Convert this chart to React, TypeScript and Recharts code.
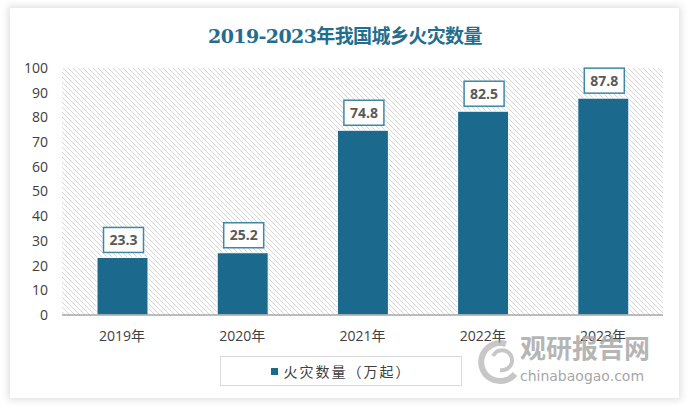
import React from "react";
import { BarChart, Bar, XAxis, YAxis, CartesianGrid, LabelList } from "recharts";

const categories = ["2019年", "2020年", "2021年", "2022年", "2023年"];
const fireCounts = [23.3, 25.2, 74.8, 82.5, 87.8];
const yTicks = [0, 10, 20, 30, 40, 50, 60, 70, 80, 90, 100];
const seriesName = "火灾数量（万起）";
const title = "2019-2023年我国城乡火灾数量";

const data = categories.map((c, i) => ({ year: c, value: fireCounts[i] }));

const BAR_COLOR = "#1b6a8d";
const SANS = "'Open Sans', 'Noto Sans CJK SC', sans-serif";

const ValueLabel = (props: any) => {
  const { x, y, width, value } = props;
  const cx = x + width / 2 + 1;
  const w = 40;
  const h = 25;
  const bottom = y - 5;
  return (
    <g>
      <rect x={cx - w / 2} y={bottom - h} width={w} height={h} fill="#ffffff" stroke="#3d88a8" strokeWidth={1.5} />
      <text x={cx} y={bottom - h / 2 + 5} textAnchor="middle" fill="#595959" fontSize={14} fontWeight="bold" fontFamily={SANS}>
        {value}
      </text>
    </g>
  );
};

export default function App() {
  return (
    <div style={{ position: "absolute", left: 0, top: 0, width: 690, height: 406, background: "#fff", overflow: "hidden" }}>
      <div
        style={{
          position: "absolute",
          left: 10,
          top: 8,
          width: 669,
          height: 390,
          background: "#fff",
          boxShadow: "0 0 7px 2px rgba(0,0,0,0.13)",
        }}
      />
      <div
        style={{
          position: "absolute",
          left: 0,
          top: 21,
          width: 690,
          textAlign: "center",
          fontFamily: "'DejaVu Serif', 'Liberation Serif', 'Noto Sans CJK SC', serif",
          fontWeight: "bold",
          fontSize: 19,
          color: "#236d8e",
          letterSpacing: -0.6,
        }}
      >
        {title}
      </div>
      <div style={{ position: "absolute", left: 0, top: 0 }}>
        <BarChart width={690} height={406} data={data} margin={{ top: 68, right: 27, bottom: 61, left: 22 }} barCategoryGap={0}>
          <defs>
            <pattern id="hatch" width="5" height="5" patternUnits="userSpaceOnUse">
              <rect width="5" height="5" fill="#ffffff" />
              <path d="M0,0 L5,5 M-1,4 L1,6 M4,-1 L6,1" stroke="#d6d6d6" strokeWidth={1} />
            </pattern>
          </defs>
          <CartesianGrid horizontal={false} vertical={false} fill="url(#hatch)" fillOpacity={1} />
          <XAxis
            dataKey="year"
            axisLine={{ stroke: "#a6a6a6", strokeWidth: 1.5 }}
            tickLine={false}
            tick={{ fill: "#404040", fontSize: 14, fontFamily: SANS }}
            dy={8}
            height={30}
          />
          <YAxis
            domain={[0, 100]}
            ticks={yTicks}
            interval={0}
            axisLine={false}
            tickLine={false}
            width={40}
            tick={{ fill: "#404040", fontSize: 14, fontFamily: SANS }}
            dx={-6}
          />
          <Bar dataKey="value" name={seriesName} fill={BAR_COLOR} stroke="#ffffff" strokeWidth={1} barSize={51} isAnimationActive={false}>
            <LabelList dataKey="value" content={<ValueLabel />} />
          </Bar>
        </BarChart>
      </div>
      <div
        style={{
          position: "absolute",
          left: 220,
          top: 356,
          width: 242,
          height: 30,
          border: "1px solid #d9d9d9",
          background: "#fff",
          display: "flex",
          alignItems: "center",
          justifyContent: "center",
          boxSizing: "border-box",
          fontFamily: SANS,
          fontSize: 14,
          color: "#404040",
          letterSpacing: 2,
        }}
      >
        <span style={{ display: "inline-block", width: 7, height: 7, background: BAR_COLOR, marginRight: 6 }} />
        <span>{seriesName}</span>
      </div>
      <svg style={{ position: "absolute", left: 0, top: 0, pointerEvents: "none" }} width={690} height={406}>
        <g opacity={0.55}>
          <path d="M506,344 A19,19 0 1,0 515,374" fill="none" stroke="#9a9a9a" strokeWidth={6} />
          <path d="M493,356 A10,10 0 1,1 500,370" fill="none" stroke="#9a9a9a" strokeWidth={4} />
        </g>
        <text x={585} y={358} textAnchor="middle" fontSize={26} fontWeight="bold" fill="#a8a8a8" fillOpacity={0.85} fontFamily="'Noto Sans CJK SC', sans-serif">
          观研报告网
        </text>
        <text x={582} y={381} textAnchor="middle" fontSize={14} fill="#9a9a9a" fillOpacity={0.9} fontFamily="'DejaVu Sans', sans-serif">
          chinabaogao.com
        </text>
      </svg>
    </div>
  );
}
